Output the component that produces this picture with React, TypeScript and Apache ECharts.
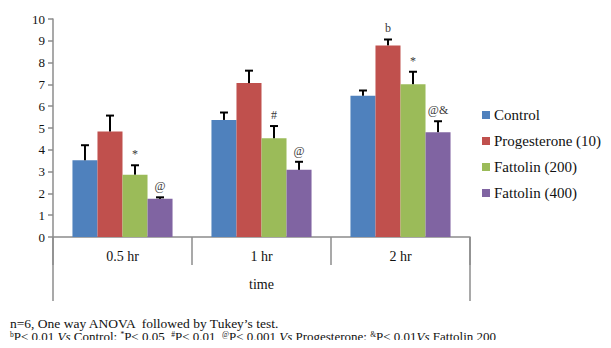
import React, { useEffect, useRef } from "react";
import * as echarts from "echarts";

const categories = ["0.5 hr", "1 hr", "2 hr"];
const seriesNames = ["Control", "Progesterone (10)", "Fattolin (200)", "Fattolin (400)"];
const colors = ["#4F81BD", "#C0504D", "#9BBB59", "#8064A2"];
const control = [3.52, 5.37, 6.48];
const progesterone = [4.84, 7.06, 8.79];
const fattolin200 = [2.86, 4.53, 7.01];
const fattolin400 = [1.75, 3.08, 4.81];
const controlErr = [0.69, 0.34, 0.24];
const progesteroneErr = [0.73, 0.57, 0.27];
const fattolin200Err = [0.43, 0.56, 0.57];
const fattolin400Err = [0.07, 0.37, 0.5];
const controlMarks = ["", "", ""];
const progesteroneMarks = ["", "", "b"];
const fattolin200Marks = ["*", "#", "*"];
const fattolin400Marks = ["@", "@", "@&"];
const yTicks = { min: 0, max: 10, interval: 1 };
const footnote1 = "n=6, One way ANOVA  followed by Tukey’s test.";
const footnote2 =
  "{sup|b}P< 0.01 {it|Vs} Control; {sup|*}P< 0.05, {sup|#}P< 0.01, {sup|@}P< 0.001 {it|Vs} Progesterone; {sup|&}P< 0.01{it|Vs} Fattolin 200";

const values = [control, progesterone, fattolin200, fattolin400];
const errs = [controlErr, progesteroneErr, fattolin200Err, fattolin400Err];
const marks = [controlMarks, progesteroneMarks, fattolin200Marks, fattolin400Marks];

const CAT_GAP = 0.28;
const SERIF = "'Liberation Serif', 'Times New Roman', serif";
const LEGEND_X = 482;
const LEGEND_Y = 115;
const LEGEND_STEP = 26;

export default function App() {
  const ref = useRef<HTMLDivElement>(null);
  useEffect(() => {
    if (!ref.current) return;
    const chart = echarts.init(ref.current, null, { renderer: "svg" });
    const errData: any[] = [];
    values.forEach((arr, s) => {
      arr.forEach((v, c) => {
        errData.push([c, s, v, v + errs[s][c], marks[s][c]]);
      });
    });
    const n = values.length;
    const legendItems = seriesNames.map((name, i) => ({
      type: "group",
      x: LEGEND_X,
      y: LEGEND_Y + i * LEGEND_STEP,
      children: [
        { type: "rect", shape: { x: 0, y: -4, width: 8, height: 8 }, style: { fill: colors[i] } },
        {
          type: "text",
          x: 12,
          y: 0,
          style: { text: name, font: "15px " + SERIF, fill: "#111", verticalAlign: "middle", align: "left" },
        },
      ],
    }));
    const option: any = {
      animation: false,
      textStyle: { fontFamily: SERIF },
      grid: { left: 53, right: 141, top: 19, bottom: 111, containLabel: false },
      xAxis: [
        {
          type: "category",
          data: categories,
          position: "bottom",
          axisLine: { show: true, lineStyle: { color: "#8c8c8c", width: 1.5 } },
          axisTick: { show: true, interval: 0, length: 28, lineStyle: { color: "#8c8c8c", width: 1.5 } },
          axisLabel: { margin: 12, fontSize: 14, color: "#111", fontFamily: SERIF },
          splitLine: { show: false },
        },
        {
          type: "category",
          data: ["time"],
          position: "bottom",
          axisLine: { show: false },
          axisTick: { show: true, length: 64, lineStyle: { color: "#8c8c8c", width: 1.5 } },
          axisLabel: { margin: 40, fontSize: 14, color: "#111", fontFamily: SERIF },
          splitLine: { show: false },
        },
      ],
      yAxis: {
        type: "value",
        min: yTicks.min,
        max: yTicks.max,
        interval: yTicks.interval,
        axisLine: { show: true, lineStyle: { color: "#8c8c8c", width: 1.5 } },
        axisTick: { show: true, length: 5, lineStyle: { color: "#8c8c8c", width: 1.5 } },
        axisLabel: { margin: 8, fontSize: 13, color: "#111", fontFamily: SERIF },
        splitLine: { show: false },
      },
      series: [
        ...seriesNames.map((name, s) => ({
          name,
          type: "bar",
          xAxisIndex: 0,
          data: values[s],
          barGap: "0%",
          barCategoryGap: CAT_GAP * 100 + "%",
          itemStyle: { color: colors[s] },
        })),
        {
          type: "custom",
          xAxisIndex: 0,
          data: errData,
          encode: { x: 0, y: 3 },
          z: 10,
          silent: true,
          itemStyle: { color: "#404040" },
          renderItem: (params: any, api: any) => {
            const c = api.value(0);
            const s = api.value(1);
            const v = api.value(2);
            const top = api.value(3);
            const mk = errData[params.dataIndex][4];
            const band = api.size([1, 0])[0];
            const groupW = band * (1 - CAT_GAP);
            const bw = groupW / n;
            const center = api.coord([c, 0])[0];
            const x = center - groupW / 2 + (s + 0.5) * bw;
            const yv = api.coord([c, v])[1];
            const yt = api.coord([c, top])[1];
            const children: any[] = [
              { type: "line", shape: { x1: x, y1: yv, x2: x, y2: yt }, style: { stroke: "#000", lineWidth: 2 } },
              { type: "line", shape: { x1: x - 4, y1: yt, x2: x + 4, y2: yt }, style: { stroke: "#000", lineWidth: 2 } },
            ];
            if (mk) {
              children.push({
                type: "text",
                x: x,
                y: yt - 5,
                style: {
                  text: mk,
                  fill: "#3a3a3a",
                  fontSize: 12,
                  fontFamily: SERIF,
                  align: "center",
                  verticalAlign: "bottom",
                },
              });
            }
            return { type: "group", children };
          },
        },
      ],
      graphic: [
        ...legendItems,
        {
          type: "text",
          left: 10,
          top: 316,
          style: { text: footnote1, font: "13.5px " + SERIF, fill: "#111" },
        },
        {
          type: "text",
          left: 10,
          top: 330,
          style: {
            text: footnote2,
            font: "13px " + SERIF,
            fill: "#111",
            rich: {
              sup: { fontSize: 7.5, fontFamily: SERIF, verticalAlign: "top", fill: "#111" },
              it: { fontSize: 13, fontStyle: "italic", fontFamily: SERIF, fill: "#111" },
            },
          },
        },
      ],
    };
    chart.setOption(option);
    return () => chart.dispose();
  }, []);
  return <div ref={ref} style={{ width: 611, height: 348, margin: -8, background: "#fff" }} />;
}
